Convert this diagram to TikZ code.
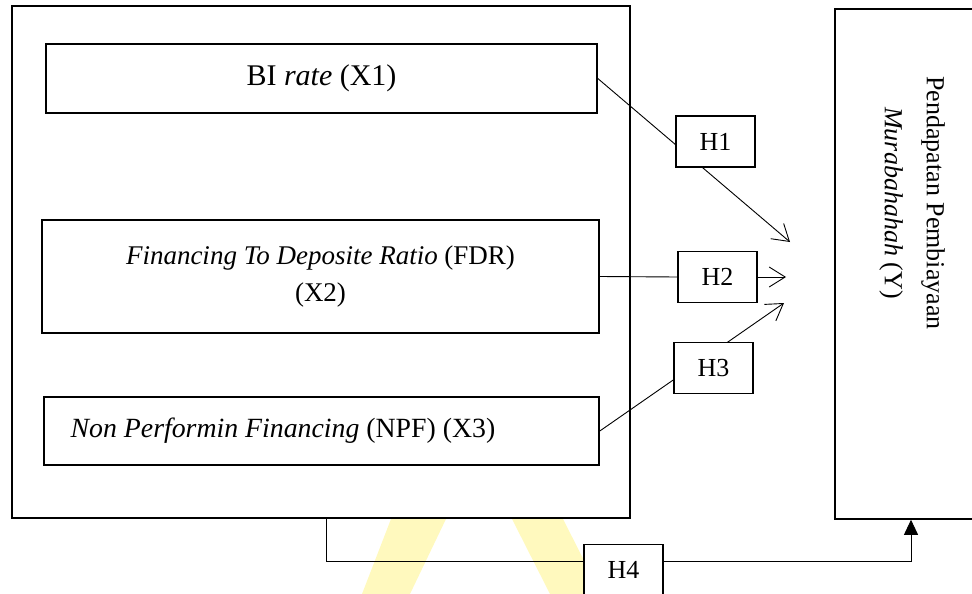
\documentclass[tikz,border=0pt]{standalone}
\usepackage{fontspec}
\setmainfont{Liberation Serif}
\usetikzlibrary{arrows.meta}
\definecolor{wm}{RGB}{255,249,190}
\begin{document}
\begin{tikzpicture}[x=1pt,y=-1pt,
  box/.style={draw, line width=1.6pt, inner sep=0pt},
  hbox/.style={draw, line width=1.6pt, fill=white, minimum width=79pt, minimum height=51pt, inner sep=0pt, font=\fontsize{26}{30}\selectfont},
  conn/.style={line width=0.9pt},
  openarrow/.style={conn, -{Straight Barb[length=16pt,width=20pt,line width=0.9pt]}},
  fillarrow/.style={conn, -{Triangle[length=15pt,width=14pt]}},
  txt/.style={font=\fontsize{27}{37}\selectfont, align=center}
]
\useasboundingbox (0,0) rectangle (972,594);
\clip (0,0) rectangle (972,594);
% watermark
\fill[wm] (391,519) -- (446,519) -- (410,594) -- (362,594) -- cycle;
\fill[wm] (512,519) -- (563,519) -- (601,594) -- (550,594) -- cycle;
% boxes
\node[box, minimum width=618pt, minimum height=512pt] (outer) at (321,262) {};
\node[box, minimum width=551pt, minimum height=69pt] (bi) at (321.5,78.5) {};
\node[txt, font=\fontsize{30}{37}\selectfont] (bitxt) at (bi.center) {BI \textit{rate} (X1)};
\node[box, txt, minimum width=557pt, minimum height=113pt] (fdr) at (320.5,276.5) {\textit{Financing To Deposite Ratio} (FDR)\\(X2)};
\node[box, minimum width=555pt, minimum height=68pt] (npf) at (321.5,431) {};
\node[txt, font=\fontsize{27.8}{37}\selectfont] (npftxt) at (283,431) {\textit{Non Performin Financing} (NPF) (X3)};
\node[box, minimum width=165pt, minimum height=510pt] (yb) at (917.5,264) {};
\node[txt, rotate=-90, font=\fontsize{26}{42}\selectfont] (ytxt) at (912,203) {Pendapatan Pembiayaan\\\textit{Murabahahah} (Y)};
% arrow tips
\coordinate (t1) at (790,242);
\coordinate (t2) at (786,277);
\coordinate (t3) at (784,303);
% connectors
\draw[openarrow] (bi.east) -- (t1);
\draw[openarrow] (npf.east) -- (t3);
\node[hbox] (h1) at (715.5,141.5) {H1};
\node[hbox] (h2) at (717.5,277) {H2};
\node[hbox] (h3) at (713.5,368) {H3};
\node[hbox] (h4) at (623.5,570) {H4};
\draw[conn] (fdr.east) -- (h2.west);
\draw[openarrow] (h2.east) -- (t2);
\draw[conn] ([xshift=315pt]outer.south west) |- ([yshift=9pt]h4.west);
\draw[fillarrow] ([yshift=9pt]h4.east) -| ([xshift=-6.5pt]yb.south);
\end{tikzpicture}
\end{document}
